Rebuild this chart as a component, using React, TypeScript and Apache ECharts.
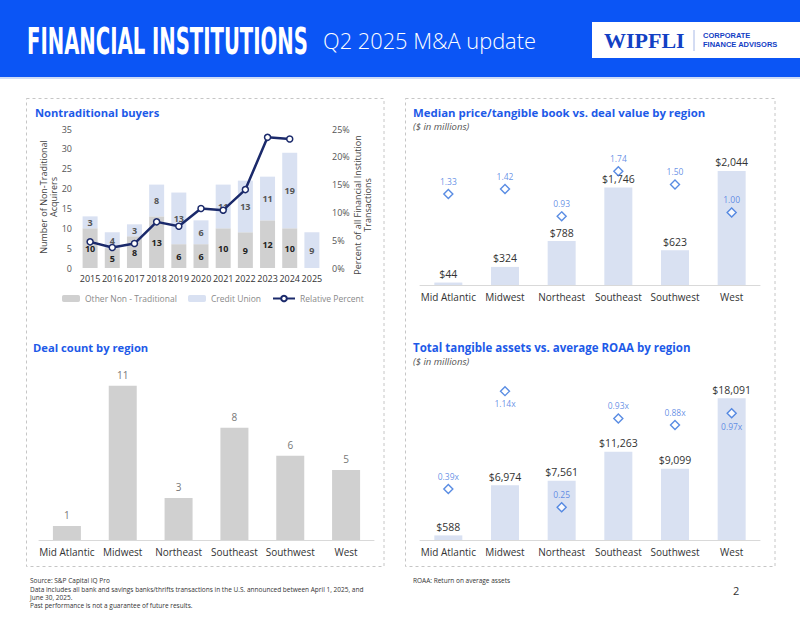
import React, { useEffect, useRef } from "react";
import * as echarts from "echarts";

const years = ["2015", "2016", "2017", "2018", "2019", "2020", "2021", "2022", "2023", "2024", "2025"];
const otherNonTraditional = [10, 5, 8, 13, 6, 6, 10, 9, 12, 10, 0];
const creditUnion = [3, 4, 3, 8, 13, 6, 11, 13, 11, 19, 9];
const relativePercent = [4.7, 3.7, 4.4, 8.3, 7.5, 10.7, 10.4, 14.1, 23.5, 23.2, null];
const leftTicks = [0, 35, 5];
const rightTicks = [0, 25, 5];

const regions = ["Mid Atlantic", "Midwest", "Northeast", "Southeast", "Southwest", "West"];
const dealValue = [44, 324, 788, 1746, 623, 2044];
const priceToTangibleBook = [1.33, 1.42, 0.93, 1.74, 1.5, 1.0];
const dealCount = [1, 11, 3, 8, 6, 5];
const tangibleAssets = [588, 6974, 7561, 11263, 9099, 18091];
const averageRoaa = [0.39, 1.14, 0.25, 0.93, 0.88, 0.97];
const roaaLabels = ["0.39x", "1.14x", "0.25", "0.93x", "0.88x", "0.97x"];

const FONT = "'Open Sans', 'Noto Sans', sans-serif";
const BLUE = "#1d5ae8";
const NAVY = "#1b2a6b";
const LIGHTBLUE = "#d9e1f2";
const GRAY = "#d0d0d0";
const DIAMOND = "#2f6fdc";

const money = (v: number) => "$" + v.toLocaleString("en-US");

function buildOption() {
  const roaaBelow = new Set([1, 5]);
  const txt = (x: number, y: number, text: string, style: any = {}, extra: any = {}) => ({
    type: "text",
    x,
    y,
    silent: true,
    ...extra,
    style: { text, fontFamily: FONT, fill: "#333", fontSize: 9, verticalAlign: "middle", ...style },
  });
  const graphic: any[] = [
    { type: "rect", shape: { x: 0, y: 0, width: 800, height: 77 }, style: { fill: "#0b55f5" } },
    { type: "rect", shape: { x: 0, y: 77, width: 800, height: 2 }, style: { fill: "#cfdcf6" } },
    {
      type: "text",
      x: 27,
      y: 41,
      scaleX: 0.59,
      style: {
        text: "FINANCIAL INSTITUTIONS",
        fontFamily: "'Liberation Sans Narrow', 'DejaVu Sans Condensed', 'Liberation Sans', sans-serif",
        fontWeight: "bold",
        fontSize: 37,
        fill: "#fff",
        verticalAlign: "middle",
      },
    },
    txt(323, 40, "Q2 2025 M&A update", { fill: "#fff", fontSize: 21.8, fontWeight: 300 }),
    { type: "rect", shape: { x: 592, y: 22, width: 208, height: 36 }, style: { fill: "#fff" } },
    txt(604, 40, "WIPFLI", { fill: "#1240c4", fontSize: 22, fontWeight: "bold", fontFamily: "'Liberation Serif', serif" }),
    { type: "line", shape: { x1: 694, y1: 30, x2: 694, y2: 51 }, style: { stroke: "#a8b9e6", lineWidth: 1 } },
    txt(703, 35.5, "CORPORATE", { fill: "#1240c4", fontSize: 7.5, fontWeight: "bold", fontFamily: "'Liberation Sans', sans-serif" }),
    txt(703, 44.5, "FINANCE ADVISORS", { fill: "#1240c4", fontSize: 7.5, fontWeight: "bold", fontFamily: "'Liberation Sans', sans-serif" }),
    { type: "rect", shape: { x: 26.5, y: 98.5, width: 357.5, height: 468 }, style: { fill: "none", stroke: "#c6c6c6", lineDash: [3, 3], lineWidth: 1 } },
    { type: "rect", shape: { x: 405.5, y: 98.5, width: 369.5, height: 468 }, style: { fill: "none", stroke: "#c6c6c6", lineDash: [3, 3], lineWidth: 1 } },
    txt(35, 112.5, "Nontraditional buyers", { fill: BLUE, fontSize: 11.2, fontWeight: "bold" }),
    txt(413, 112, "Median price/tangible book vs. deal value by region", { fill: BLUE, fontSize: 11.4, fontWeight: "bold" }),
    txt(413, 126.5, "($ in millions)", { fill: "#555", fontSize: 9.5, fontStyle: "italic" }),
    txt(33, 347, "Deal count by region", { fill: BLUE, fontSize: 11.2, fontWeight: "bold" }),
    txt(413, 347, "Total tangible assets vs. average ROAA by region", { fill: BLUE, fontSize: 11.5, fontWeight: "bold" }),
    txt(413, 361.5, "($ in millions)", { fill: "#555", fontSize: 9.5, fontStyle: "italic" }),
    txt(48, 197, "Number of Non-Traditional\nAcquirers", { fill: "#444", fontSize: 9, align: "center", lineHeight: 10 }, { rotation: Math.PI / 2 }),
    txt(362, 205, "Percent of all Financial Institution\nTransactions", { fill: "#444", fontSize: 9, align: "center", lineHeight: 10 }, { rotation: Math.PI / 2 }),
    txt(30, 580, "Source: S&P Capital IQ Pro", { fontSize: 6.5 }),
    txt(30, 589.5, "Data includes all bank and savings banks/thrifts transactions in the U.S. announced between April 1, 2025, and", { fontSize: 6.5 }),
    txt(30, 597, "June 30, 2025.", { fontSize: 6.5 }),
    txt(30, 605.5, "Past performance is not a guarantee of future results.", { fontSize: 6.5 }),
    txt(413, 580, "ROAA: Return on average assets", { fontSize: 6.5 }),
    txt(733, 590, "2", { fontSize: 11 }),
  ];

  const catAxis = (gridIndex: number, data: string[], fontSize: number, margin: number, line: boolean) => ({
    type: "category",
    gridIndex,
    data,
    axisTick: { show: false },
    axisLine: { show: line, lineStyle: { color: "#d9d9d9" } },
    axisLabel: { color: "#333", fontSize, fontFamily: FONT, margin, interval: 0 },
  });
  const hiddenVal = (gridIndex: number, min: number, max: number) => ({
    type: "value",
    gridIndex,
    min,
    max,
    show: false,
    splitLine: { show: false },
  });
  const diamondStyle = { color: "#fff", borderColor: DIAMOND, borderWidth: 1.4 };
  const legendText = { color: "#8a8a8a", fontSize: 8.5, fontFamily: FONT };

  return {
    animation: false,
    backgroundColor: "#fff",
    textStyle: { fontFamily: FONT },
    graphic,
    legend: [
      { data: ["Other Non - Traditional"], left: 57, top: 289, itemWidth: 18, itemHeight: 7, itemGap: 0, textStyle: legendText, selectedMode: false },
      { data: ["Credit Union"], left: 183, top: 289, itemWidth: 18, itemHeight: 7, textStyle: legendText, selectedMode: false },
      { data: ["Relative Percent"], left: 267, top: 289, itemWidth: 22, itemHeight: 7, textStyle: legendText, selectedMode: false },
    ],
    grid: [
      { left: 79, top: 129, width: 244, height: 139 },
      { left: 420, top: 145.5, width: 340, height: 139.5 },
      { left: 39, top: 371.7, width: 335, height: 168.3 },
      { left: 420, top: 383.3, width: 340, height: 156.7 },
    ],
    xAxis: [
      catAxis(0, years, 9, 6, false),
      catAxis(1, regions, 10, 7, true),
      catAxis(2, regions, 10, 7, true),
      catAxis(3, regions, 10, 7, true),
    ],
    yAxis: [
      {
        type: "value",
        gridIndex: 0,
        min: leftTicks[0],
        max: leftTicks[1],
        interval: leftTicks[2],
        splitLine: { show: false },
        axisLine: { show: false },
        axisTick: { show: false },
        axisLabel: { color: "#555", fontSize: 9, fontFamily: FONT, margin: 7 },
      },
      {
        type: "value",
        gridIndex: 0,
        position: "right",
        min: rightTicks[0],
        max: rightTicks[1],
        interval: rightTicks[2],
        splitLine: { show: false },
        axisLine: { show: false },
        axisTick: { show: false },
        axisLabel: { color: "#555", fontSize: 9, fontFamily: FONT, margin: 9, formatter: "{value}%" },
      },
      hiddenVal(1, 0, 2500),
      hiddenVal(1, -0.3, 2.2),
      hiddenVal(2, 0, 12),
      hiddenVal(3, 0, 20000),
      hiddenVal(3, 0, 1.2),
    ],
    series: [
      {
        name: "Other Non - Traditional",
        type: "bar",
        xAxisIndex: 0,
        yAxisIndex: 0,
        stack: "buyers",
        barWidth: 15,
        data: otherNonTraditional,
        itemStyle: { color: GRAY },
        label: {
          show: true,
          position: "inside",
          color: "#222",
          fontWeight: "bold",
          fontSize: 9,
          formatter: (p: any) => (p.value ? String(p.value) : ""),
        },
      },
      {
        name: "Credit Union",
        type: "bar",
        xAxisIndex: 0,
        yAxisIndex: 0,
        stack: "buyers",
        barWidth: 15,
        data: creditUnion,
        itemStyle: { color: LIGHTBLUE },
        label: { show: true, position: "inside", color: "#555", fontWeight: "bold", fontSize: 9 },
      },
      {
        name: "Relative Percent",
        type: "line",
        xAxisIndex: 0,
        yAxisIndex: 1,
        data: relativePercent,
        symbol: "circle",
        symbolSize: 6,
        lineStyle: { color: NAVY, width: 2.5 },
        itemStyle: { color: "#fff", borderColor: NAVY, borderWidth: 1.5 },
      },
      {
        type: "bar",
        xAxisIndex: 1,
        yAxisIndex: 2,
        barWidth: 28,
        data: dealValue,
        itemStyle: { color: LIGHTBLUE },
        label: { show: true, position: "top", distance: 3, color: "#333", fontSize: 10.5, formatter: (p: any) => money(p.value) },
      },
      {
        type: "scatter",
        xAxisIndex: 1,
        yAxisIndex: 3,
        symbol: "diamond",
        symbolSize: 9,
        data: priceToTangibleBook,
        itemStyle: diamondStyle,
        label: { show: true, position: "top", distance: 3, color: "#3f76e0", fontSize: 8.5, formatter: (p: any) => p.value.toFixed(2) },
      },
      {
        type: "bar",
        xAxisIndex: 2,
        yAxisIndex: 4,
        barWidth: 28,
        data: dealCount,
        itemStyle: { color: GRAY },
        label: { show: true, position: "top", distance: 6, color: "#777", fontSize: 10 },
      },
      {
        type: "bar",
        xAxisIndex: 3,
        yAxisIndex: 5,
        barWidth: 28,
        data: tangibleAssets,
        itemStyle: { color: LIGHTBLUE },
        label: { show: true, position: "top", distance: 3, color: "#333", fontSize: 10.5, formatter: (p: any) => money(p.value) },
      },
      {
        type: "scatter",
        xAxisIndex: 3,
        yAxisIndex: 6,
        symbol: "diamond",
        symbolSize: 9,
        data: averageRoaa.map((v, i) => ({
          value: v,
          label: { position: roaaBelow.has(i) ? "bottom" : "top" },
        })),
        itemStyle: diamondStyle,
        label: {
          show: true,
          position: "top",
          distance: 3,
          color: "#3f76e0",
          fontSize: 8.5,
          formatter: (p: any) => roaaLabels[p.dataIndex],
        },
      },
    ],
  };
}

export default function App() {
  const ref = useRef<HTMLDivElement>(null);
  useEffect(() => {
    if (!ref.current) return;
    const chart = echarts.init(ref.current, null, { renderer: "svg" });
    chart.setOption(buildOption() as any);
    return () => chart.dispose();
  }, []);
  return (
    <div
      ref={ref}
      style={{ position: "fixed", left: 0, top: 0, width: 800, height: 618, background: "#fff" }}
    />
  );
}
